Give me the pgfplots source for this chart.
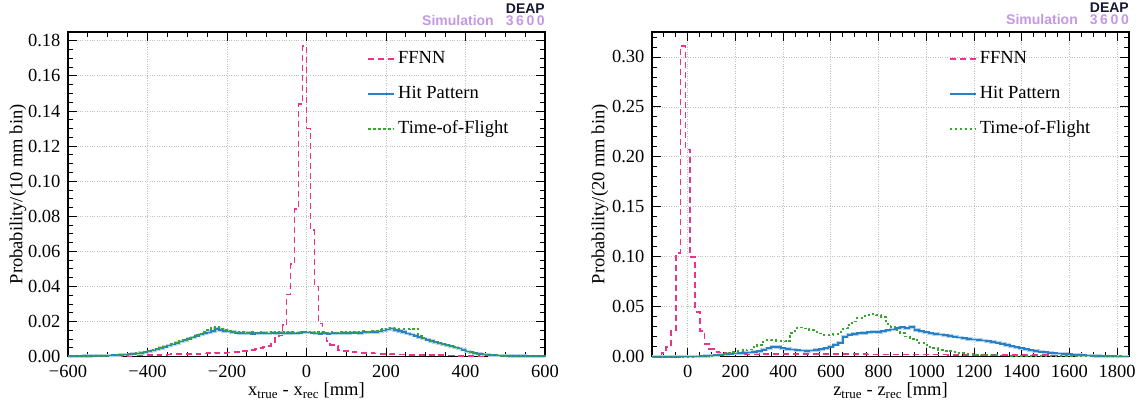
\documentclass[border=0pt]{standalone}
\usepackage{fontspec}
\setmainfont{Liberation Serif}
\newfontfamily\deapfont{Liberation Sans}
\usepackage{pgfplots}
\pgfplotsset{compat=1.18}
\usepackage{pgfplotstable}

\definecolor{ffnn}{RGB}{233,52,135}
\definecolor{hitp}{RGB}{40,128,198}
\definecolor{tof}{RGB}{58,165,48}
\definecolor{lila}{RGB}{196,152,228}
\definecolor{deapink}{RGB}{24,24,48}

% x = lower bin edge, 10 mm bins
\pgfplotstableread{
x ffnn hit tof
-600 0.0002 0.0003 0.0002
-590 0.0002 0.0003 0.0003
-580 0.0002 0.0003 0.0002
-570 0.0002 0.0003 0.0003
-560 0.0002 0.0004 0.0003
-550 0.0002 0.0004 0.0004
-540 0.0002 0.0005 0.0004
-530 0.0003 0.0005 0.0005
-520 0.0003 0.0006 0.0005
-510 0.0003 0.0006 0.0006
-500 0.0003 0.0007 0.0007
-490 0.0004 0.0008 0.0007
-480 0.0005 0.0009 0.0009
-470 0.0006 0.0011 0.0010
-460 0.0006 0.0012 0.0012
-450 0.0006 0.0014 0.0013
-440 0.0007 0.0016 0.0016
-430 0.0007 0.0018 0.0019
-420 0.0007 0.0021 0.0022
-410 0.0008 0.0025 0.0026
-400 0.0010 0.0031 0.0030
-390 0.0010 0.0036 0.0037
-380 0.0010 0.0043 0.0042
-370 0.0011 0.0050 0.0049
-360 0.0011 0.0056 0.0057
-350 0.0012 0.0063 0.0064
-340 0.0014 0.0070 0.0072
-330 0.0015 0.0078 0.0079
-320 0.0015 0.0086 0.0088
-310 0.0015 0.0094 0.0097
-300 0.0016 0.0102 0.0106
-290 0.0016 0.0110 0.0114
-280 0.0016 0.0119 0.0123
-270 0.0017 0.0126 0.0131
-260 0.0018 0.0133 0.0140
-250 0.0020 0.0138 0.0152
-240 0.0020 0.0145 0.0166
-230 0.0021 0.0158 0.0170
-220 0.0022 0.0152 0.0158
-210 0.0022 0.0147 0.0150
-200 0.0024 0.0143 0.0146
-190 0.0025 0.0141 0.0143
-180 0.0026 0.0137 0.0141
-170 0.0029 0.0134 0.0138
-160 0.0032 0.0133 0.0140
-150 0.0036 0.0135 0.0137
-140 0.0040 0.0131 0.0139
-130 0.0044 0.0134 0.0136
-120 0.0050 0.0133 0.0140
-110 0.0055 0.0135 0.0138
-100 0.0060 0.0132 0.0137
-90 0.0076 0.0136 0.0141
-80 0.0110 0.0134 0.0138
-70 0.0120 0.0137 0.0142
-60 0.0180 0.0133 0.0139
-50 0.0355 0.0135 0.0140
-40 0.0530 0.0134 0.0143
-30 0.0840 0.0132 0.0138
-20 0.1440 0.0137 0.0141
-10 0.1770 0.0140 0.0139
0 0.1300 0.0138 0.0142
10 0.0720 0.0136 0.0140
20 0.0400 0.0133 0.0137
30 0.0190 0.0131 0.0141
40 0.0135 0.0134 0.0139
50 0.0088 0.0130 0.0136
60 0.0065 0.0132 0.0140
70 0.0060 0.0134 0.0138
80 0.0040 0.0133 0.0141
90 0.0034 0.0135 0.0139
100 0.0032 0.0134 0.0142
110 0.0028 0.0136 0.0140
120 0.0025 0.0137 0.0143
130 0.0023 0.0135 0.0141
140 0.0022 0.0138 0.0144
150 0.0021 0.0139 0.0142
160 0.0020 0.0138 0.0146
170 0.0018 0.0141 0.0148
180 0.0016 0.0144 0.0152
190 0.0015 0.0149 0.0156
200 0.0015 0.0155 0.0158
210 0.0014 0.0160 0.0161
220 0.0014 0.0151 0.0159
230 0.0013 0.0147 0.0157
240 0.0012 0.0141 0.0158
250 0.0012 0.0133 0.0156
260 0.0011 0.0126 0.0159
270 0.0011 0.0119 0.0157
280 0.0010 0.0111 0.0120
290 0.0010 0.0104 0.0106
300 0.0009 0.0097 0.0098
310 0.0009 0.0090 0.0091
320 0.0008 0.0083 0.0084
330 0.0008 0.0077 0.0078
340 0.0008 0.0071 0.0070
350 0.0007 0.0065 0.0066
360 0.0007 0.0059 0.0060
370 0.0007 0.0053 0.0054
380 0.0006 0.0047 0.0048
390 0.0006 0.0040 0.0041
400 0.0006 0.0030 0.0031
410 0.0005 0.0025 0.0026
420 0.0005 0.0020 0.0021
430 0.0005 0.0016 0.0017
440 0.0004 0.0013 0.0014
450 0.0004 0.0011 0.0011
460 0.0004 0.0009 0.0009
470 0.0004 0.0008 0.0008
480 0.0003 0.0007 0.0007
490 0.0003 0.0006 0.0006
500 0.0003 0.0005 0.0005
510 0.0003 0.0004 0.0004
520 0.0003 0.0004 0.0004
530 0.0003 0.0004 0.0004
540 0.0003 0.0004 0.0003
550 0.0003 0.0003 0.0003
560 0.0002 0.0003 0.0003
570 0.0002 0.0003 0.0003
580 0.0002 0.0003 0.0003
590 0.0002 0.0003 0.0003
600 0.0002 0.0003 0.0003
}\xtab

% x = lower bin edge, 20 mm bins
\pgfplotstableread{
x ffnn hit tof
-150 0 0 0
-130 0.0005 0 0
-110 0.004 0 0
-90 0.010 0 0
-70 0.027 0 0
-50 0.104 0 0
-30 0.311 0.0001 0
-10 0.2075 0.0001 0.0001
10 0.100 0.0002 0.0001
30 0.045 0.0003 0.0002
50 0.026 0.0005 0.0003
70 0.013 0.0008 0.0006
90 0.008 0.0012 0.0010
110 0.005 0.0016 0.0015
130 0.004 0.0020 0.0020
150 0.0035 0.0025 0.0028
170 0.0030 0.0030 0.0036
190 0.0030 0.0033 0.0045
210 0.0030 0.0036 0.0055
230 0.0030 0.0040 0.0065
250 0.0030 0.0042 0.0072
270 0.0030 0.0048 0.0095
290 0.0030 0.0055 0.0117
310 0.0028 0.0070 0.0150
330 0.0028 0.0085 0.0165
350 0.0028 0.0100 0.0163
370 0.0027 0.0098 0.0157
390 0.0027 0.0086 0.0152
410 0.0027 0.0078 0.0160
430 0.0026 0.0071 0.0240
450 0.0026 0.0066 0.0285
470 0.0026 0.0062 0.0292
490 0.0026 0.0058 0.0282
510 0.0025 0.0062 0.0264
530 0.0025 0.0068 0.0246
550 0.0025 0.0075 0.0232
570 0.0025 0.0086 0.0220
590 0.0025 0.0100 0.0218
610 0.0025 0.0120 0.0226
630 0.0024 0.0140 0.0246
650 0.0024 0.0200 0.0282
670 0.0024 0.0220 0.0320
690 0.0024 0.0228 0.0352
710 0.0024 0.0235 0.0386
730 0.0024 0.0238 0.0406
750 0.0023 0.0245 0.0420
770 0.0023 0.0250 0.0428
790 0.0023 0.0245 0.0418
810 0.0023 0.0256 0.0400
830 0.0023 0.0264 0.0330
850 0.0023 0.0272 0.0300
870 0.0022 0.0286 0.0270
890 0.0022 0.0296 0.0236
910 0.0022 0.0286 0.0202
930 0.0022 0.0298 0.0180
950 0.0022 0.0268 0.0165
970 0.0022 0.0256 0.0140
990 0.0021 0.0246 0.0116
1010 0.0021 0.0236 0.0100
1030 0.0021 0.0228 0.0085
1050 0.0021 0.0222 0.0071
1070 0.0021 0.0215 0.0061
1090 0.0020 0.0208 0.0053
1110 0.0020 0.0200 0.0045
1130 0.0020 0.0193 0.0038
1150 0.0020 0.0185 0.0033
1170 0.0020 0.0178 0.0028
1190 0.0019 0.0171 0.0025
1210 0.0019 0.0168 0.0021
1230 0.0019 0.0162 0.0018
1250 0.0019 0.0155 0.0016
1270 0.0018 0.0148 0.0014
1290 0.0018 0.0140 0.0013
1310 0.0018 0.0130 0.0012
1330 0.0018 0.0118 0.0012
1350 0.0017 0.0106 0.0011
1370 0.0017 0.0095 0.0011
1390 0.0017 0.0085 0.0010
1410 0.0017 0.0075 0.0010
1430 0.0016 0.0066 0.0009
1450 0.0016 0.0058 0.0009
1470 0.0016 0.0050 0.0008
1490 0.0016 0.0045 0.0008
1510 0.0015 0.0040 0.0008
1530 0.0015 0.0036 0.0007
1550 0.0015 0.0032 0.0007
1570 0.0015 0.0028 0.0007
1590 0.0014 0.0024 0.0006
1610 0.0014 0.0020 0.0006
1630 0.0014 0.0017 0.0005
1650 0.0014 0.0014 0.0005
1670 0.0013 0.0012 0.0005
1690 0.0013 0.0010 0.0004
1710 0.0013 0.0008 0.0004
1730 0.0013 0.0006 0.0004
1750 0.0012 0.0005 0.0003
1770 0.0012 0.0004 0.0003
1790 0.0012 0.0003 0.0003
1810 0.0012 0.0002 0.0003
1830 0.0011 0.0002 0.0002
1850 0.0011 0.0002 0.0002
}\ztab

\newcommand{\bigfont}{\fontsize{18.5}{21}\selectfont}

\pgfplotsset{
  deap/.style={
    scale only axis, width=477pt, height=324.7pt,
    clip=false,
    axis line style={line width=1.4pt},
    tick align=inside, xtick pos=both, ytick pos=both,
    major tick length=9pt, minor tick length=5pt,
    every tick/.style={black, line width=0.9pt},
    grid=major, major grid style={dotted, gray!50, line width=0.8pt},
    tick label style={font=\bigfont},
    label style={font=\bigfont},
    xticklabel style={yshift=-5pt},
    yticklabel style={xshift=-4pt, /pgf/number format/.cd, fixed, fixed zerofill, precision=2, assume math mode=true},
    xlabel style={at={(axis description cs:0.5,-0.105)}, anchor=center},
    legend cell align=left,
    legend style={draw=none, fill=none, inner sep=0pt, row sep=16pt, column sep=2pt,
      font=\bigfont,
      nodes={inner sep=1pt, text height=13pt, text depth=4pt}},
    legend image code/.code={\draw[##1] (0pt,0pt) -- (26pt,0pt);},
  },
  ffnnline/.style={const plot, ffnn, line width=1.7pt, dash pattern=on 6pt off 4pt},
  hitline/.style={const plot, hitp, line width=1.7pt},
  hithalo/.style={const plot, hitp!35, line width=3.2pt, forget plot},
  tofline/.style={const plot, tof, line width=1.9pt, dash pattern=on 2.4pt off 2.6pt},
}

\newcommand{\deaptag}{%
  \node[anchor=base east, inner sep=0pt, yshift=19pt, text=deapink,
    font=\deapfont\bfseries\fontsize{14}{14}\selectfont] at (rel axis cs:1,1) {DEAP};
  \node[anchor=base east, inner sep=0pt, yshift=7pt, text=lila,
    font=\deapfont\bfseries\fontsize{14}{14}\selectfont] at (rel axis cs:1,1)
    {3\hspace{2.6pt}6\hspace{2.6pt}0\hspace{2.6pt}0};
  \node[anchor=base east, inner sep=0pt, yshift=7pt, xshift=-51pt, text=lila,
    font=\deapfont\bfseries\fontsize{14}{14}\selectfont] at (rel axis cs:1,1) {Simulation};
}

\begin{document}
\begin{tikzpicture}
\useasboundingbox (-68pt,-51.3pt) rectangle (1070pt,356.7pt);

\begin{axis}[deap,
  xmin=-600, xmax=600, ymin=0, ymax=0.185,
  xtick={-600,-400,-200,0,200,400,600},
  xticklabels={−600,−400,−200,0,200,400,600},
  minor x tick num=3,
  ytick={0,0.02,0.04,0.06,0.08,0.10,0.12,0.14,0.16,0.18},
  minor y tick num=3,
  xlabel={x\textsubscript{true} - x\textsubscript{rec} [mm]},
  ylabel={Probability/(10 mm bin)},
  ylabel style={at={(axis description cs:-0.105,0.5)}, anchor=center},
  legend style={at={(axis description cs:0.627,0.947)}, anchor=north west},
]
\addplot[ffnnline] table[x=x, y=ffnn] {\xtab};
\addlegendentry{FFNN}
\addplot[hithalo] table[x=x, y=hit] {\xtab};
\addplot[hitline] table[x=x, y=hit] {\xtab};
\addlegendentry{Hit Pattern}
\addplot[tofline] table[x=x, y=tof] {\xtab};
\addlegendentry{Time-of-Flight}
\deaptag
\end{axis}

\begin{axis}[deap, at={(584pt,0pt)},
  xmin=-150, xmax=1850, ymin=0, ymax=0.325,
  xtick={0,200,400,600,800,1000,1200,1400,1600,1800},
  minor xtick={-100,-50,50,100,150,250,300,350,450,500,550,650,700,750,850,900,950,1050,1100,1150,1250,1300,1350,1450,1500,1550,1650,1700,1750,1850},
  xticklabel style={/pgf/number format/.cd, 1000 sep={}, assume math mode=true},
  ytick={0,0.05,0.10,0.15,0.20,0.25,0.30},
  minor ytick={0.01,0.02,0.03,0.04,0.06,0.07,0.08,0.09,0.11,0.12,0.13,0.14,0.16,0.17,0.18,0.19,0.21,0.22,0.23,0.24,0.26,0.27,0.28,0.29,0.31,0.32},
  xlabel={z\textsubscript{true} - z\textsubscript{rec} [mm]},
  ylabel={Probability/(20 mm bin)},
  ylabel style={at={(axis description cs:-0.109,0.5)}, anchor=center},
  legend style={at={(axis description cs:0.622,0.947)}, anchor=north west},
]
\addplot[ffnnline] table[x=x, y=ffnn] {\ztab};
\addlegendentry{FFNN}
\addplot[hithalo] table[x=x, y=hit] {\ztab};
\addplot[hitline] table[x=x, y=hit] {\ztab};
\addlegendentry{Hit Pattern}
\addplot[tofline] table[x=x, y=tof] {\ztab};
\addlegendentry{Time-of-Flight}
\deaptag
\end{axis}
\end{tikzpicture}
\end{document}
